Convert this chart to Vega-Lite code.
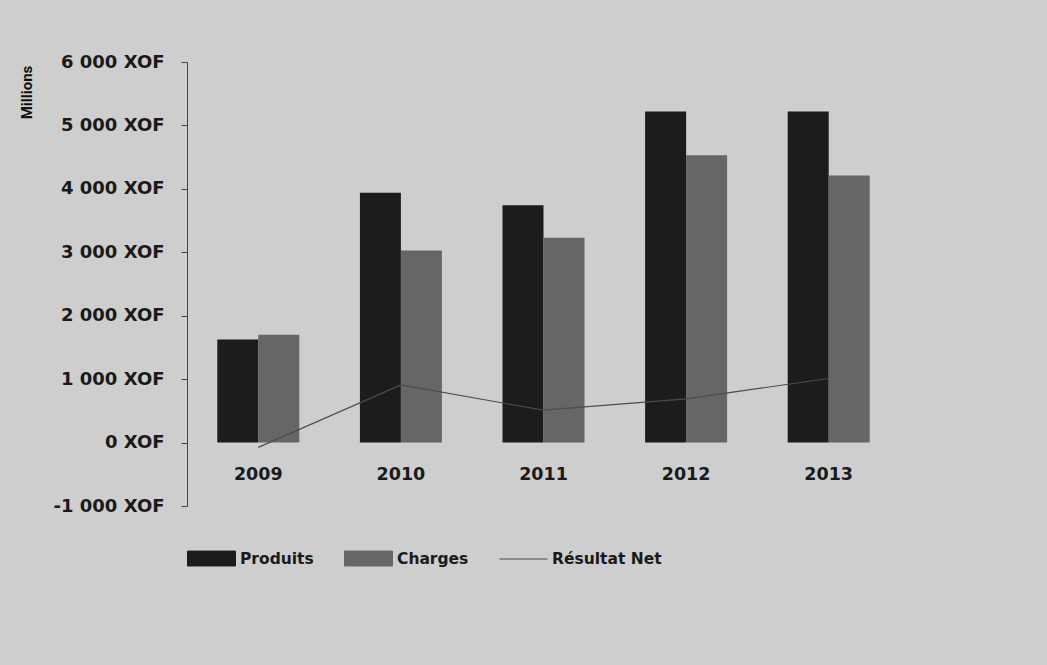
{
  "$schema": "https://vega.github.io/schema/vega-lite/v6.json",
  "width": 713,
  "height": 444,
  "autosize": {"type": "none"},
  "padding": {"left": 187, "top": 62, "right": 147, "bottom": 159},
  "background": "#cecece",
  "config": {
    "view": {"stroke": null},
    "font": "DejaVu Sans",
    "axis": {"labelFont": "DejaVu Sans", "labelFontWeight": "bold", "labelColor": "#1a1a1a", "titleFont": "Roboto"},
    "legend": {"labelFont": "DejaVu Sans"}
  },
  "data": {
    "values": [
      {"year": "2009", "series": "Produits", "value": 1625},
      {"year": "2009", "series": "Charges", "value": 1700},
      {"year": "2009", "series": "Résultat Net", "value": -75},
      {"year": "2010", "series": "Produits", "value": 3940},
      {"year": "2010", "series": "Charges", "value": 3030},
      {"year": "2010", "series": "Résultat Net", "value": 910},
      {"year": "2011", "series": "Produits", "value": 3740},
      {"year": "2011", "series": "Charges", "value": 3230},
      {"year": "2011", "series": "Résultat Net", "value": 510},
      {"year": "2012", "series": "Produits", "value": 5220},
      {"year": "2012", "series": "Charges", "value": 4530},
      {"year": "2012", "series": "Résultat Net", "value": 690},
      {"year": "2013", "series": "Produits", "value": 5220},
      {"year": "2013", "series": "Charges", "value": 4210},
      {"year": "2013", "series": "Résultat Net", "value": 1010}
    ]
  },
  "encoding": {
    "x": {
      "field": "year", "type": "nominal",
      "scale": {"paddingInner": 0.425, "paddingOuter": 0.2125},
      "axis": {"title": null, "labelAngle": 0, "domain": false, "ticks": false, "offset": -63.4, "labelPadding": 23, "labelFontSize": 17.5}
    },
    "y": {
      "field": "value", "type": "quantitative",
      "scale": {"domain": [-1000, 6000], "nice": false, "zero": false},
      "axis": {
        "values": [-1000, 0, 1000, 2000, 3000, 4000, 5000, 6000],
        "labelExpr": "replace(replace(format(datum.value, ',d'), ',', ' '), '\u2212', '-') + ' XOF'",
        "grid": false,
        "domainColor": "#444",
        "tickColor": "#444",
        "tickSize": 6,
        "labelPadding": 17,
        "labelFontSize": 18,
        "title": "Millions",
        "titleFontWeight": "bold",
        "titleFontSize": 15,
        "titleColor": "#111",
        "titleAngle": -90,
        "titleX": -161,
        "titleY": 30,
        "titleAlign": "center",
        "titleBaseline": "middle"
      }
    },
    "color": {
      "field": "series", "type": "nominal",
      "scale": {"domain": ["Produits", "Charges", "Résultat Net"], "range": ["#1c1c1c", "#666666", "#4d4d4d"]},
      "legend": {
        "title": null,
        "orient": "bottom",
        "direction": "horizontal",
        "offset": 28,
        "columnPadding": 28,
        "symbolSize": 2304,
        "labelFontSize": 15.5,
        "labelFontWeight": "bold",
        "labelColor": "#1a1a1a",
        "labelOffset": 4,
        "encode": {
          "symbols": {
            "update": {
              "shape": {"signal": "datum.value === 'Résultat Net' ? 'M-1,0H1' : 'M-1,-0.31H1V0.31H-1Z'"},
              "fill": {"signal": "datum.value === 'Résultat Net' ? 'transparent' : (datum.value === 'Produits' ? '#1c1c1c' : '#666666')"},
              "stroke": {"signal": "datum.value === 'Résultat Net' ? '#4d4d4d' : 'transparent'"},
              "strokeWidth": {"value": 1},
              "opacity": {"value": 1}
            }
          }
        }
      }
    }
  },
  "layer": [
    {
      "transform": [{"filter": "datum.series !== 'Résultat Net'"}],
      "mark": {"type": "bar", "opacity": 1},
      "encoding": {
        "xOffset": {"field": "series", "type": "nominal", "sort": ["Produits", "Charges"], "scale": {"paddingInner": 0}}
      }
    },
    {
      "transform": [{"filter": "datum.series === 'Résultat Net'"}],
      "mark": {"type": "line", "strokeWidth": 1.2},
      "encoding": {}
    }
  ]
}
